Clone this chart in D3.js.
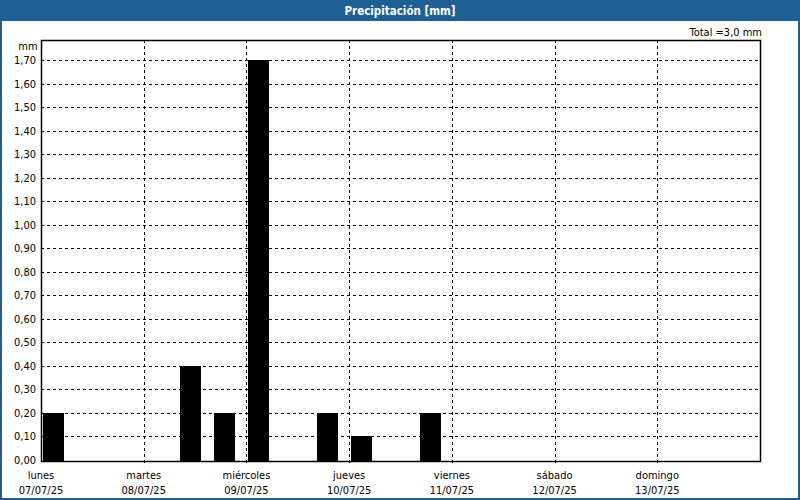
<!DOCTYPE html>
<html>
<head>
<meta charset="utf-8">
<script src="https://cdn.jsdelivr.net/npm/d3@7"></script>
<style>
  body { margin: 0; background: #fff; }
  svg text { font-family: Tahoma, "DejaVu Sans Condensed", "Liberation Sans", sans-serif; }
</style>
</head>
<body>
<div id="chart"></div>
<script>
// Precipitation chart - 8 hour bins

const title = 'Precipitación [mm]';
const totalLabel = 'Total =3,0 mm';
const unitLabel = 'mm';

// day ticks
const dayNames = ['lunes', 'martes', 'miércoles', 'jueves', 'viernes', 'sábado', 'domingo'];
const dayDates = ['07/07/25', '08/07/25', '09/07/25', '10/07/25', '11/07/25', '12/07/25', '13/07/25'];

// 8 h periods (start) and rainfall per period
const periodStarts = [
    '2025-07-07T00:00', '2025-07-07T08:00', '2025-07-07T16:00',
    '2025-07-08T00:00', '2025-07-08T08:00', '2025-07-08T16:00',
    '2025-07-09T00:00', '2025-07-09T08:00', '2025-07-09T16:00',
    '2025-07-10T00:00', '2025-07-10T08:00', '2025-07-10T16:00',
    '2025-07-11T00:00', '2025-07-11T08:00', '2025-07-11T16:00',
    '2025-07-12T00:00', '2025-07-12T08:00', '2025-07-12T16:00',
    '2025-07-13T00:00', '2025-07-13T08:00', '2025-07-13T16:00'
];
const rainValues = [
    0.2, 0, 0,
    0, 0.4, 0.2,
    1.7, 0, 0.2,
    0.1, 0, 0.2,
    0, 0, 0,
    0, 0, 0,
    0, 0, 0
];
const yTicks = [0, 0.1, 0.2, 0.3, 0.4, 0.5, 0.6, 0.7, 0.8, 0.9, 1.0, 1.1, 1.2, 1.3, 1.4, 1.5, 1.6, 1.7];

const width = 800;
const height = 500;
const blue = '#1e6096';
const plot = { left: 41, top: 40, right: 760, bottom: 461 };

const parse = d3.timeParse('%Y-%m-%dT%H:%M');
const bars = periodStarts.map((s, i) => ({ start: parse(s), value: rainValues[i] }));
const days = dayNames.map((n, i) => ({ name: n, date: dayDates[i], t: d3.timeDay.offset(parse('2025-07-07T00:00'), i) }));

const svg = d3.select('#chart')
    .append('svg')
    .attr('width', width)
    .attr('height', height);

// frame + header
svg.append('rect')
    .attr('x', 1).attr('y', 1)
    .attr('width', width - 2).attr('height', height - 2)
    .attr('fill', '#fff')
    .attr('stroke', blue)
    .attr('stroke-width', 2);
svg.append('rect')
    .attr('x', 0).attr('y', 0)
    .attr('width', width).attr('height', 21)
    .attr('fill', blue);
svg.append('text')
    .attr('x', width / 2).attr('y', 15)
    .attr('text-anchor', 'middle')
    .attr('fill', '#fff')
    .attr('font-size', 11.5)
    .attr('font-weight', 'bold')
    .text(title);

const x = d3.scaleTime()
    .domain([parse('2025-07-07T00:00'), parse('2025-07-14T00:00')])
    .range([plot.left, plot.right]);
const y = d3.scaleLinear()
    .domain([0, 1.785])
    .range([plot.bottom - 1, plot.top]);

const fmt = v => d3.format('.2f')(v).replace('.', ',');

// horizontal gridlines
svg.append('g')
    .selectAll('line')
    .data(yTicks.slice(1))
    .enter().append('line')
    .attr('x1', plot.left).attr('x2', plot.right)
    .attr('y1', d => Math.round(y(d)) + 0.5)
    .attr('y2', d => Math.round(y(d)) + 0.5)
    .attr('stroke', '#000')
    .attr('stroke-dasharray', '3,3');

// vertical gridlines (extend below axis as ticks)
svg.append('g')
    .selectAll('line')
    .data(days.slice(1))
    .enter().append('line')
    .attr('x1', d => Math.round(x(d.t)) + 0.5)
    .attr('x2', d => Math.round(x(d.t)) + 0.5)
    .attr('y1', plot.top)
    .attr('y2', plot.bottom + 5)
    .attr('stroke', '#000')
    .attr('stroke-dasharray', '3,3');

// bars
svg.append('g')
    .selectAll('rect')
    .data(bars.filter(d => d.value > 0))
    .enter().append('rect')
    .attr('x', d => Math.round(x(d.start)) + 2)
    .attr('width', d => Math.round(x(d3.timeHour.offset(d.start, 8)) - x(d.start)) - 13)
    .attr('y', d => Math.round(y(d.value)))
    .attr('height', d => Math.round(y(0)) - Math.round(y(d.value)) + 1)
    .attr('fill', '#000');

// plot frame
svg.append('rect')
    .attr('x', plot.left + 0.5).attr('y', plot.top + 0.5)
    .attr('width', plot.right - plot.left)
    .attr('height', plot.bottom - plot.top)
    .attr('fill', 'none')
    .attr('stroke', '#000')
    .attr('stroke-width', 1.5);

// y labels
svg.append('g')
    .selectAll('text')
    .data(yTicks)
    .enter().append('text')
    .attr('x', 36)
    .attr('y', d => y(d) + 4)
    .attr('text-anchor', 'end')
    .attr('font-size', 11)
    .attr('fill', '#000')
    .text(fmt);

svg.append('text')
    .attr('x', 28).attr('y', 50)
    .attr('text-anchor', 'middle')
    .attr('font-size', 11)
    .text(unitLabel);

svg.append('text')
    .attr('x', 762).attr('y', 36)
    .attr('text-anchor', 'end')
    .attr('font-size', 11)
    .text(totalLabel);

// x labels
const xl = svg.append('g')
    .selectAll('g')
    .data(days)
    .enter().append('g')
    .attr('transform', d => `translate(${x(d.t)},0)`);
xl.append('text')
    .attr('y', 479)
    .attr('text-anchor', 'middle')
    .attr('font-size', 11)
    .text(d => d.name);
xl.append('text')
    .attr('y', 494)
    .attr('text-anchor', 'middle')
    .attr('font-size', 11)
    .text(d => d.date);
</script>
</body>
</html>
